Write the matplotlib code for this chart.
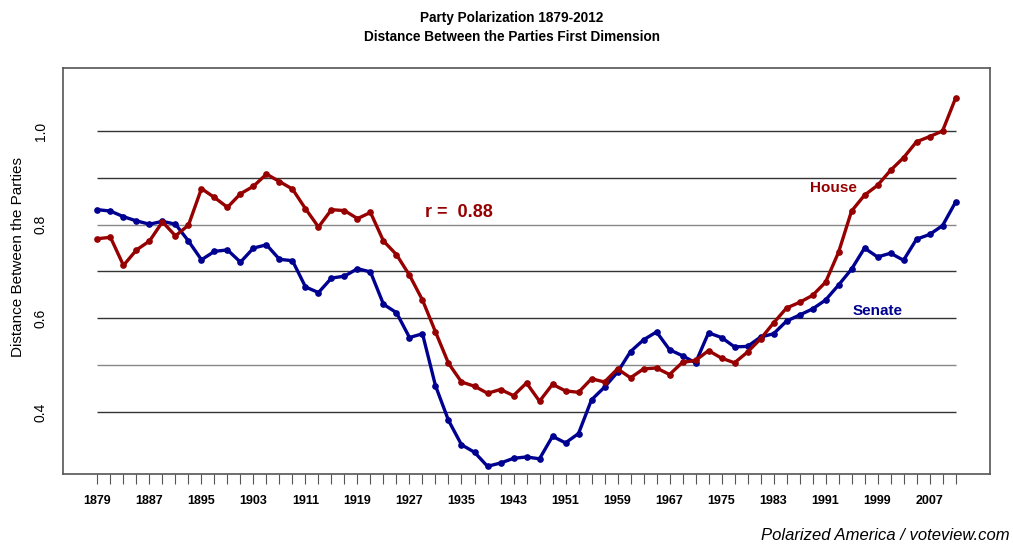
import matplotlib
matplotlib.use("Agg")
import matplotlib.pyplot as plt

# congress start years, one point per congress
years = list(range(1879, 2012, 2))

house = [0.770, 0.773, 0.713, 0.746, 0.765, 0.806, 0.776, 0.799, 0.877, 0.858,
         0.837, 0.866, 0.882, 0.908, 0.892, 0.876, 0.834, 0.795, 0.832, 0.830,
         0.813, 0.826, 0.765, 0.736, 0.692, 0.639, 0.571, 0.504, 0.464, 0.455,
         0.440, 0.448, 0.435, 0.462, 0.423, 0.459, 0.445, 0.442, 0.471, 0.464,
         0.492, 0.473, 0.492, 0.494, 0.480, 0.506, 0.510, 0.531, 0.515, 0.505,
         0.528, 0.556, 0.590, 0.622, 0.634, 0.649, 0.677, 0.741, 0.829, 0.863,
         0.884, 0.916, 0.943, 0.977, 0.988, 1.000, 1.070]

senate = [0.832, 0.829, 0.817, 0.808, 0.801, 0.807, 0.801, 0.765, 0.725, 0.743,
          0.746, 0.720, 0.750, 0.757, 0.726, 0.723, 0.667, 0.655, 0.686, 0.690,
          0.706, 0.699, 0.630, 0.612, 0.559, 0.567, 0.456, 0.382, 0.330, 0.314,
          0.284, 0.291, 0.301, 0.304, 0.300, 0.348, 0.334, 0.354, 0.426, 0.453,
          0.485, 0.529, 0.554, 0.571, 0.533, 0.520, 0.505, 0.569, 0.559, 0.539,
          0.540, 0.560, 0.567, 0.594, 0.607, 0.620, 0.639, 0.671, 0.705, 0.750,
          0.731, 0.739, 0.724, 0.769, 0.779, 0.798, 0.848]

label_years = list(range(1879, 2008, 8))
grid_levels = [0.4, 0.5, 0.6, 0.7, 0.8, 0.9, 1.0]
ytick_values = [0.4, 0.6, 0.8, 1.0]

red = "#960000"
blue = "#000090"

plt.rcParams["font.family"] = ["Liberation Sans", "DejaVu Sans"]

fig = plt.figure(figsize=(10.13, 5.44), dpi=100)
ax = fig.add_axes([0.0622, 0.1287, 0.9151, 0.7463])

# horizontal reference lines only across the data range
for g in grid_levels:
    shade = "#888888" if g in (0.5, 0.8) else "#333333"
    ax.hlines(g, years[0], years[-1], color=shade, lw=1.0, zorder=1)

ax.plot(years, senate, color=blue, lw=2.4, marker="o", markersize=3.8, zorder=3)
ax.plot(years, house, color=red, lw=2.4, marker="o", markersize=3.8, zorder=3)

ax.set_xlim(1873.7, 2016.3)
ax.set_ylim(0.2676, 1.1345)

ax.set_xticks(years, minor=True)
ax.set_xticks(label_years)
ax.set_xticklabels([str(y) for y in label_years], fontsize=9, fontweight="bold")
ax.tick_params(axis="x", which="both", direction="out", length=7, width=0.8,
               color="#555555", pad=8)

ax.set_yticks(ytick_values)
ax.set_yticklabels(["0.4", "0.6", "0.8", "1.0"], rotation=90, va="center", fontsize=10)
ax.tick_params(axis="y", length=0, pad=11)

for s in ax.spines.values():
    s.set_color("#555555")
    s.set_linewidth(1.2)

ax.text(1929.4, 0.827, "r =  0.88", color=red, fontsize=13, fontweight="bold", va="center")
ax.text(1988.6, 0.878, "House", color=red, fontsize=11, fontweight="bold", va="center")
ax.text(1995.2, 0.616, "Senate", color=blue, fontsize=11, fontweight="bold", va="center")

fig.text(18 / 1013, 1 - 257 / 544, "Distance Between the Parties", rotation=90,
         ha="center", va="center", fontsize=11)
fig.text(512 / 1013, 1 - 18 / 544, "Party Polarization 1879-2012",
         ha="center", va="center", fontsize=9.8, fontweight="bold")
fig.text(512 / 1013, 1 - 37 / 544, "Distance Between the Parties First Dimension",
         ha="center", va="center", fontsize=9.8, fontweight="bold")
fig.text(1010 / 1013, 1 - 536 / 544, "Polarized America / voteview.com",
         ha="right", va="center", fontsize=12, style="italic")

fig.savefig("out.png", dpi=100)
